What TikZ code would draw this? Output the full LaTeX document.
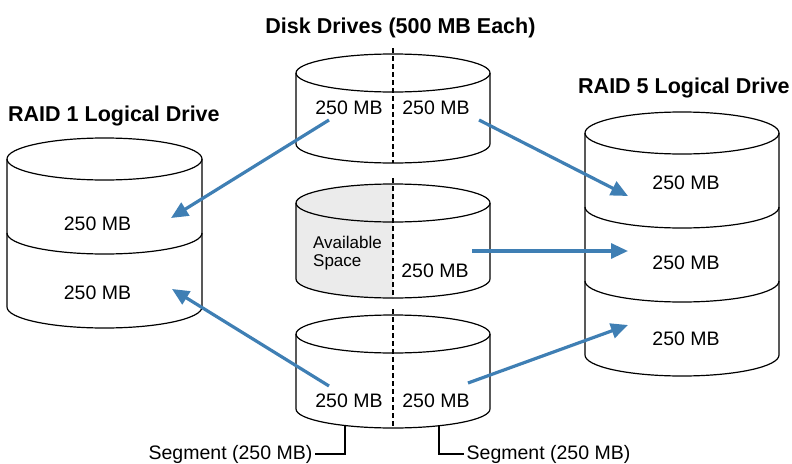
\documentclass[tikz,border=0pt]{standalone}
\usepackage{fontspec}
\setmainfont{Liberation Sans}
\usetikzlibrary{arrows.meta}
\definecolor{arrowblue}{HTML}{3F7FB4}
\definecolor{availgray}{HTML}{EBEBEB}

\begin{document}
\begin{tikzpicture}[x=1pt, y=1pt,
	edge/.style={line width=1.2pt},
	mb/.style={font=\fontsize{19.5}{23}\selectfont, anchor=base, inner sep=0pt},
	seg/.style={font=\fontsize{19.5}{23}\selectfont, inner ysep=0pt, inner xsep=2.5pt},
	heading/.style={font=\fontsize{21.5}{26}\selectfont\bfseries, inner sep=0pt},
	move/.style={draw=arrowblue, line width=3.2pt, -{Triangle[length=17pt,width=15pt]}}]

\useasboundingbox (0,0) rectangle (792,-463);

% Disk drives
\fill[availgray] (296,-279) -- (296,-203) arc[start angle=180, end angle=90, x radius=97, y radius=19]
	-- (393,-298) arc[start angle=270, end angle=180, x radius=97, y radius=19] -- cycle;

\foreach \t/\b in {73/144, 203/279, 334/409} {
	\draw[edge] (296,-\t) -- (296,-\b) arc[start angle=180, end angle=360, x radius=97, y radius=19] -- (490,-\t);
	\draw[edge] (393,-\t) ellipse[x radius=97, y radius=19];
	\draw[edge, dash pattern=on 5pt off 3pt] (393,-\t+25) -- (393,-\b-19);
}

\node[heading, anchor=base] (disks) at (400.5,-33) {Disk Drives (500 MB Each)};

\node[mb] (d1l) at (349,-114) {250 MB};
\node[mb] (d1r) at (436,-114) {250 MB};
\node[anchor=west, align=left, inner sep=0pt, font=\fontsize{17}{18}\selectfont] (avail) at (313,-253.5) {Available\\Space};
\node[mb] (d2r) at (435,-277) {250 MB};
\node[mb] (d3l) at (349,-407) {250 MB};
\node[mb] (d3r) at (436,-407) {250 MB};

% RAID 1
\draw[edge] (7,-159) -- (7,-307) arc[start angle=180, end angle=360, x radius=97.5, y radius=21] -- (202,-159);
\draw[edge] (104.5,-159) ellipse[x radius=97.5, y radius=21];
\draw[edge] (7,-233) arc[start angle=180, end angle=360, x radius=97.5, y radius=21];

\node[heading, anchor=base west] (raid1) at (8,-121) {RAID 1 Logical Drive};
\node[mb] (r1a) at (97.5,-230) {250 MB};
\node[mb] (r1b) at (97.5,-299) {250 MB};

% RAID 5
\draw[edge] (585,-133) -- (585,-355) arc[start angle=180, end angle=360, x radius=97, y radius=21] -- (779,-133);
\draw[edge] (682,-133) ellipse[x radius=97, y radius=21];
\foreach \y in {207, 281}
	\draw[edge] (585,-\y) arc[start angle=180, end angle=360, x radius=97, y radius=21];

\node[heading, anchor=base west] (raid5) at (578,-93) {RAID 5 Logical Drive};
\node[mb] (r5a) at (686,-189) {250 MB};
\node[mb] (r5b) at (686,-269) {250 MB};
\node[mb] (r5c) at (686,-345) {250 MB};

% Segments
\node[seg, anchor=base east] (segl) at (315,-459) {Segment (250 MB)};
\node[seg, anchor=base west] (segr) at (464,-459) {Segment (250 MB)};
\coordinate (cutl) at (345,-425);
\coordinate (cutr) at (439,-425);
\draw[edge] (segl.east) -| (cutl);
\draw[edge] (cutr) |- (segr.west);

% Arrows
\coordinate (m1s) at (329,-120);  \coordinate (m1e) at (171,-218);
\coordinate (m2s) at (479,-120);  \coordinate (m2e) at (628,-196);
\coordinate (m3s) at (472,-251);  \coordinate (m3e) at (628,-251);
\coordinate (m4s) at (329,-386);  \coordinate (m4e) at (172,-289);
\coordinate (m5s) at (468,-383);  \coordinate (m5e) at (628,-325);
\foreach \m in {1,...,5}
	\draw[move] (m\m s) -- (m\m e);

\end{tikzpicture}
\end{document}
